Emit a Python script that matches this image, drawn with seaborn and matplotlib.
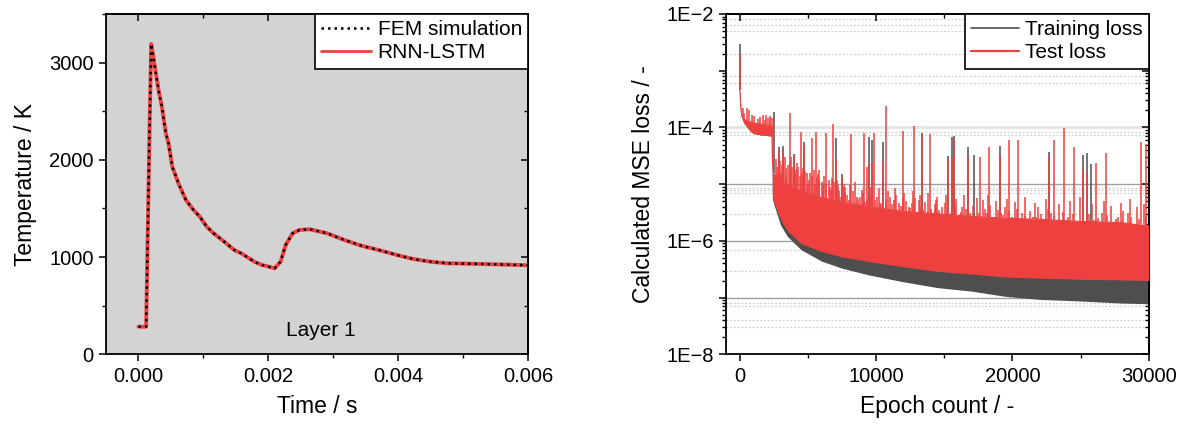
import numpy as np
import pandas as pd
import matplotlib
matplotlib.use("Agg")
import matplotlib.pyplot as plt
import seaborn as sns
from matplotlib.ticker import MultipleLocator, FixedLocator, LogLocator, FuncFormatter, NullFormatter
from matplotlib.lines import Line2D

# ---------------- data: left panel (temperature history, layer 1) ----------------
time_s = [0.0, 0.000118, 0.000169, 0.000196, 0.000231, 0.000308, 0.00036, 0.000421,
          0.000462, 0.00052, 0.000625, 0.00073, 0.000837, 0.000943, 0.00105, 0.001155,
          0.00132, 0.001473, 0.00158, 0.00179, 0.0019, 0.002097, 0.002187, 0.002266,
          0.002372, 0.00248, 0.002637, 0.002902, 0.003166, 0.00343, 0.003695,
          0.004013, 0.00423, 0.004489, 0.004754, 0.005284, 0.006]
temp_fem = [284, 284, 2274, 3192, 3045, 2719, 2547, 2274,
            2171, 1930, 1742, 1587, 1492, 1416, 1313, 1245,
            1158, 1073, 1039, 950, 919, 885, 953, 1125,
            1245, 1279, 1286, 1245, 1176, 1117, 1073,
            1015, 980, 953, 936, 929, 916]
temp_rnn = [284, 284, 2274, 3192, 3045, 2719, 2547, 2274,
            2171, 1930, 1742, 1587, 1492, 1416, 1313, 1245,
            1158, 1073, 1039, 950, 919, 885, 953, 1125,
            1245, 1279, 1286, 1245, 1176, 1117, 1073,
            1015, 980, 953, 936, 929, 916]
left_xticks = [0.0, 0.002, 0.004, 0.006]
left_xticklabels = ["0.000", "0.002", "0.004", "0.006"]
left_yticks = [0, 1000, 2000, 3000]

# ---------------- data: right panel (loss curves) ----------------
loss_epochs = [0, 30, 80, 150, 300, 550, 800, 1000, 1500, 2000, 2370, 2400, 2500,
               3000, 3500, 4500, 6000, 7500, 9500, 12000, 14500, 17000, 19500,
               22000, 25000, 28000, 30000]
test_high = [4.5e-4, 4.0e-4, 2.3e-4, 1.6e-4, 1.4e-4, 1.3e-4, 1.25e-4, 1.2e-4, 1.15e-4,
             1.1e-4, 1.05e-4, 2.5e-5, 1.5e-5, 1.15e-5, 9.5e-6, 7.5e-6, 5.8e-6, 4.8e-6,
             4.0e-6, 3.3e-6, 3.0e-6, 2.7e-6, 2.5e-6, 2.4e-6, 2.2e-6, 2.1e-6, 1.8e-6]
test_low = [3.5e-4, 3.0e-4, 1.8e-4, 1.5e-4, 1.2e-4, 1.0e-4, 8.5e-5, 7.8e-5, 7.4e-5,
            7.2e-5, 7.0e-5, 6.0e-6, 4.8e-6, 2.4e-6, 1.5e-6, 9.0e-7, 6.5e-7, 5.2e-7,
            4.3e-7, 3.5e-7, 2.9e-7, 2.6e-7, 2.3e-7, 2.2e-7, 2.1e-7, 2.05e-7, 2.0e-7]
train_low = [3.5e-4, 3.0e-4, 1.8e-4, 1.5e-4, 1.2e-4, 1.0e-4, 8.5e-5, 7.8e-5, 7.4e-5,
             7.2e-5, 7.0e-5, 5.5e-6, 4.5e-6, 1.9e-6, 1.2e-6, 7.0e-7, 4.4e-7, 3.3e-7,
             2.5e-7, 1.9e-7, 1.5e-7, 1.3e-7, 1.05e-7, 9.3e-8, 8.7e-8, 8.0e-8, 7.8e-8]

test_spike_epochs = [0, 222, 344, 540, 711, 906, 1077, 1321, 1516, 1711, 1833, 1931, 2077,
                     2199, 2297, 2420, 2860, 3153, 3666, 4008, 4521, 4740, 5308, 5594,
                     5852, 6327, 6864, 7035, 7475, 7758, 8135, 9112, 9336, 9478, 9673,
                     9844, 10479, 10699, 11993, 12799, 13336, 13947, 15241, 15534, 15730,
                     16740, 17610, 18320, 19054, 19735, 20415, 22647, 23056, 23763,
                     24498, 25178, 25505, 26131, 26866, 29398, 29806]
test_spike_values = [2.0e-3, 2.2e-4, 1.8e-4, 2.2e-4, 2.05e-4, 1.67e-4, 1.56e-4, 1.4e-4,
                     1.53e-4, 1.67e-4, 1.37e-4, 1.67e-4, 1.47e-4, 1.56e-4, 1.47e-4,
                     1.46e-4, 3.8e-5, 3.9e-5, 1.8e-4, 3.4e-5, 8.2e-5, 5.0e-5, 6.4e-5,
                     8.2e-5, 1.78e-5, 8.0e-5, 1.15e-4, 2.8e-5, 1.36e-5, 9.0e-6, 7.6e-5,
                     8.0e-5, 2.0e-5, 2.3e-5, 2.5e-5, 8.1e-5, 2.5e-5, 2.4e-4, 8.7e-5,
                     1.07e-4, 7.8e-5, 7.8e-5, 2.8e-5, 3.0e-5, 6.3e-5, 3.0e-5, 3.05e-5,
                     4.6e-5, 3.2e-5, 6.0e-5, 6.0e-5, 3.05e-5, 6.0e-5, 9.9e-5, 4.6e-5,
                     1.8e-5, 1.55e-5, 2.4e-5, 3.6e-5, 5.6e-5, 5.1e-5]

test_grass_epochs = [2722, 2858, 3049, 3321, 3539, 3811, 4083, 4219, 4627, 4954, 5090,
                     5444, 5662, 6043, 6125, 6533, 6669, 7213, 7349, 7758, 8030, 8574,
                     8847, 9173, 9527, 9935, 10262, 10480, 11024, 11296, 11705, 11977,
                     12385, 12657, 13120, 13474, 13746, 14290, 14427, 14835, 15515,
                     16060, 16332, 16876, 17285, 17829, 18101, 18646, 19190, 19462,
                     20006, 20687, 21095, 21504, 21912, 22320, 22865, 23273, 24090,
                     24770, 25995, 26540, 27356, 27764, 28445, 28989, 29534]
test_grass_values = [2.04e-5, 2.33e-5, 1.55e-5, 3.05e-5, 2.18e-5, 2.04e-5, 1.55e-5,
                     2.33e-5, 1.9e-5, 1.55e-5, 1.19e-5, 1.78e-5, 1.36e-5, 1.11e-5,
                     9.7e-6, 1.19e-5, 7.9e-6, 9.7e-6, 6.0e-6, 7.4e-6, 5.27e-6, 6.0e-6,
                     6.0e-6, 4.9e-6, 6.45e-6, 5.27e-6, 4.6e-6, 5.6e-6, 6.0e-6, 5.27e-6,
                     4.6e-6, 5.6e-6, 4.0e-6, 4.6e-6, 5.27e-6, 3.5e-6, 3.07e-6, 3.5e-6,
                     5.27e-6, 4.0e-6, 3.07e-6, 2.68e-6, 4.0e-6, 3.07e-6, 2.34e-6,
                     5.27e-6, 3.07e-6, 2.34e-6, 3.07e-6, 4.0e-6, 2.68e-6, 3.07e-6,
                     2.34e-6, 2.68e-6, 4.0e-6, 2.34e-6, 3.07e-6, 2.34e-6, 2.68e-6,
                     2.04e-6, 2.34e-6, 3.07e-6, 1.78e-6, 2.68e-6, 3.07e-6, 1.56e-6,
                     1.78e-6]
test_grass2_epochs = [2790, 2950, 3180, 3430, 3680, 3950, 4150, 4420, 4790, 5020, 5270,
                      5550, 5850, 6080, 6330, 6600, 6940, 7280, 7550, 7900, 8300, 8710,
                      9010, 9350, 9730, 10100, 10370, 10750, 11160, 11500, 11840, 12180,
                      12520, 12890, 13300, 13610, 14020, 14360, 14630, 15050, 15300,
                      15790, 16200, 16600, 17080, 17560, 17960, 18370, 18920, 19330,
                      19730, 20350, 20890, 21300, 21710, 22120, 22590, 23070, 23680,
                      24430, 25180, 25600, 26270, 26950, 27560, 28100, 28720, 29260,
                      29800]
test_grass2_values = [1.6e-5, 2.6e-5, 1.8e-5, 1.5e-5, 2.5e-5, 1.3e-5, 1.8e-5, 1.4e-5,
                      1.7e-5, 1.0e-5, 1.4e-5, 1.0e-5, 1.2e-5, 8.0e-6, 1.0e-5, 9.0e-6,
                      1.1e-5, 7.5e-6, 8.5e-6, 6.5e-6, 7.5e-6, 5.5e-6, 7.0e-6, 5.5e-6,
                      7.0e-6, 6.0e-6, 4.5e-6, 5.5e-6, 4.5e-6, 6.5e-6, 4.2e-6, 5.0e-6,
                      3.8e-6, 5.8e-6, 4.0e-6, 4.8e-6, 3.6e-6, 4.5e-6, 3.5e-6, 4.6e-6,
                      3.4e-6, 4.2e-6, 3.2e-6, 3.6e-6, 4.2e-6, 3.1e-6, 3.6e-6, 4.3e-6,
                      3.5e-6, 2.9e-6, 3.4e-6, 3.6e-6, 2.8e-6, 3.4e-6, 2.6e-6, 3.0e-6,
                      3.6e-6, 2.7e-6, 3.2e-6, 3.0e-6, 2.6e-6, 3.0e-6, 2.5e-6, 2.9e-6,
                      2.4e-6, 3.3e-6, 2.6e-6, 2.4e-6, 2.8e-6]
test_grass3_epochs = [2650, 3100, 3380, 3750, 4300, 4550, 5180, 5720, 6200, 6750, 7150,
                      7650, 8100, 8450, 8950, 9600, 10200, 10900, 11400, 12050, 12700,
                      13200, 13800, 14500, 15100, 15900, 16450, 17400, 18200, 18800,
                      19600, 20200, 20950, 21650, 22450, 23400, 24250, 24950, 25850,
                      26700, 27200, 27950, 28600, 29100, 29650]
test_grass3_values = [2.8e-5, 2.2e-5, 1.9e-5, 3.0e-5, 2.0e-5, 1.6e-5, 1.6e-5, 1.5e-5,
                      1.4e-5, 1.3e-5, 1.2e-5, 1.0e-5, 9.5e-6, 1.1e-5, 8.0e-6, 9.0e-6,
                      8.5e-6, 7.5e-6, 8.5e-6, 7.0e-6, 7.5e-6, 6.5e-6, 7.0e-6, 6.0e-6,
                      6.5e-6, 5.5e-6, 6.5e-6, 5.8e-6, 6.5e-6, 5.0e-6, 5.5e-6, 4.8e-6,
                      6.0e-6, 4.6e-6, 5.5e-6, 4.5e-6, 5.0e-6, 6.0e-6, 4.5e-6, 5.0e-6,
                      4.2e-6, 4.6e-6, 5.5e-6, 4.0e-6, 4.5e-6]

train_spike_epochs = [0, 2494, 2860, 3153, 4008, 4740, 7035, 7475, 9478, 9673, 10479,
                      13336, 15241, 15534, 15730, 16740, 17150, 19054, 22647, 25178,
                      25505, 25777]
train_spike_values = [2.9e-3, 1.9e-4, 4.6e-5, 4.7e-5, 3.4e-5, 5.6e-5, 6.5e-5, 1.5e-5,
                      6.9e-5, 6.1e-5, 5.5e-5, 8.0e-5, 3.1e-5, 6.9e-5, 7.2e-5, 4.6e-5,
                      3.3e-5, 4.7e-5, 3.7e-5, 3.3e-5, 3.6e-5, 2.3e-5]

right_xticks = [0, 10000, 20000, 30000]
right_decades = [1e-8, 1e-7, 1e-6, 1e-5, 1e-4, 1e-3, 1e-2]
solid_grid_levels = [1e-7, 1e-6, 1e-5]
light_grid_levels = [1e-4]
dotted_grid_levels = [8e-3, 6.5e-3, 5e-3, 2e-3, 8e-4, 6e-4, 8.2e-5, 7.4e-5, 8.7e-6,
                      8e-6, 7e-6, 3e-6, 7e-7, 3e-7, 8e-8, 7e-8, 4e-8, 3e-8]

# ---------------- style ----------------
RED = "#ef4040"
GRAY = "#4e4e4e"
sns.set_theme(style="white")
plt.rcParams["font.family"] = ["Liberation Sans", "DejaVu Sans"]
plt.rcParams["axes.unicode_minus"] = True
for k in ["text.color", "axes.labelcolor", "xtick.color", "ytick.color", "axes.edgecolor"]:
    plt.rcParams[k] = "black"

TICK_FS = 14.5
LABEL_FS = 16.5
LEG_FS = 15

fig = plt.figure(figsize=(11.82, 4.24), dpi=100)
ax1 = fig.add_axes([106 / 1182, 69.7 / 424, 422.3 / 1182, 340.3 / 424])
ax2 = fig.add_axes([726 / 1182, 69.7 / 424, 422.8 / 1182, 340.3 / 424])


def style_frame(ax):
    for s in ax.spines.values():
        s.set_visible(True)
        s.set_color("black")
        s.set_linewidth(1.3)
    ax.tick_params(which="major", direction="out", length=4.8, width=1.1,
                   labelsize=TICK_FS, colors="black", pad=4)
    ax.tick_params(which="minor", direction="out", length=2.6, width=1.0,
                   colors="black")
    ax.tick_params(bottom=True, left=True, top=False, right=False, which="both")


def mirror_ticks(ax, xmajor, xminor, ymajor, yminor):
    top = ax.secondary_xaxis("top")
    top.xaxis.set_major_locator(xmajor)
    top.xaxis.set_minor_locator(xminor)
    top.tick_params(which="major", direction="in", length=4.8, width=1.1,
                    labeltop=False, colors="black")
    top.tick_params(which="minor", direction="in", length=2.6, width=1.0, colors="black")
    top.spines["top"].set_linewidth(1.3)
    right = ax.secondary_yaxis("right")
    right.yaxis.set_major_locator(ymajor)
    right.yaxis.set_minor_locator(yminor)
    right.yaxis.set_minor_formatter(NullFormatter())
    right.tick_params(which="major", direction="in", length=4.8, width=1.1,
                      labelright=False, colors="black")
    right.tick_params(which="minor", direction="in", length=2.6, width=1.0, colors="black")
    right.spines["right"].set_linewidth(1.3)


# ---------------- left panel ----------------
ax1.set_facecolor("#d3d3d3")
df_t = pd.DataFrame({"time": time_s, "fem": temp_fem, "rnn": temp_rnn})
sns.lineplot(data=df_t, x="time", y="rnn", ax=ax1, color=RED, linewidth=2.8,
             sort=False, estimator=None, zorder=3)
sns.lineplot(data=df_t, x="time", y="fem", ax=ax1, color="black", linewidth=1.8,
             linestyle=(0, (1, 1.6)), sort=False, estimator=None, zorder=4)
ax1.set_xlim(-0.0005, 0.006)
ax1.set_ylim(0, 3500)
ax1.set_xticks(left_xticks)
ax1.set_xticklabels(left_xticklabels)
ax1.xaxis.set_minor_locator(MultipleLocator(0.001))
ax1.set_yticks(left_yticks)
ax1.yaxis.set_minor_locator(MultipleLocator(500))
style_frame(ax1)
ax1.set_xlabel("Time / s", fontsize=LABEL_FS, labelpad=7)
ax1.set_ylabel("Temperature / K", fontsize=LABEL_FS, labelpad=9)
ax1.text(0.0028, 240, "Layer 1", ha="center", va="center", fontsize=LEG_FS, color="black")
mirror_ticks(ax1, FixedLocator(left_xticks), MultipleLocator(0.001),
             FixedLocator(left_yticks), MultipleLocator(500))

h1 = [Line2D([], [], color="black", lw=1.8, linestyle=(0, (1, 1.6))),
      Line2D([], [], color=RED, lw=2.0)]
leg1 = ax1.legend(h1, ["FEM simulation", "RNN-LSTM"], loc="upper right",
                  bbox_to_anchor=(1, 1), borderaxespad=0, frameon=True, fancybox=False,
                  edgecolor="black", facecolor="white", framealpha=1, fontsize=LEG_FS,
                  handlelength=2.4, handletextpad=0.3, labelspacing=0.2, borderpad=0.3)
leg1.get_frame().set_linewidth(1.2)

# ---------------- right panel ----------------
ax2.set_facecolor("white")
ax2.set_yscale("log")
ax2.set_xlim(-1000, 30000)
ax2.set_ylim(1e-8, 1e-2)

for lv in dotted_grid_levels:
    ax2.axhline(lv, color="#cfcfcf", lw=0.9, ls=(0, (1.5, 1.5)), zorder=0)
for lv in light_grid_levels:
    ax2.axhline(lv, color="#e4e4e4", lw=2.0, zorder=0)
for lv in solid_grid_levels:
    ax2.axhline(lv, color="#a0a0a0", lw=1.0, zorder=0)

ep = np.asarray(loss_epochs, dtype=float)
log_top = np.log(np.asarray(test_high))


def band_top(x):
    return np.exp(np.interp(np.asarray(x, dtype=float), ep, log_top))


# training loss (drawn first, underneath)
ax2.fill_between(ep, train_low, test_high, color=GRAY, lw=0, zorder=2)
ax2.vlines(train_spike_epochs, band_top(train_spike_epochs), train_spike_values,
           color=GRAY, lw=1.1, zorder=2)
# test loss
ax2.fill_between(ep, test_low, test_high, color=RED, lw=0, zorder=3)
for xs, ys in [(test_spike_epochs, test_spike_values),
               (test_grass_epochs, test_grass_values),
               (test_grass2_epochs, test_grass2_values),
               (test_grass3_epochs, test_grass3_values)]:
    ax2.vlines(xs, band_top(xs), ys, color=RED, lw=1.1, zorder=3)
sns.lineplot(x=loss_epochs, y=test_high, ax=ax2, color=RED, lw=0.8, zorder=3,
             estimator=None, sort=False)

ax2.set_xticks(right_xticks)
ax2.xaxis.set_minor_locator(MultipleLocator(5000))
ax2.yaxis.set_major_locator(FixedLocator(right_decades))
ax2.yaxis.set_minor_locator(LogLocator(base=10, subs=np.arange(2, 10), numticks=30))
ax2.yaxis.set_minor_formatter(NullFormatter())


def dec_label(v, pos):
    n = int(round(np.log10(v)))
    if n % 2 == 0:
        return "1E\u2212%d" % (-n)
    return ""


ax2.yaxis.set_major_formatter(FuncFormatter(dec_label))
style_frame(ax2)
ax2.set_xlabel("Epoch count / -", fontsize=LABEL_FS, labelpad=7)
ax2.set_ylabel("Calculated MSE loss / -", fontsize=LABEL_FS, labelpad=8)
mirror_ticks(ax2, FixedLocator(right_xticks), MultipleLocator(5000),
             FixedLocator(right_decades),
             LogLocator(base=10, subs=np.arange(2, 10), numticks=30))

h2 = [Line2D([], [], color=GRAY, lw=1.2), Line2D([], [], color=RED, lw=1.6)]
leg2 = ax2.legend(h2, ["Training loss", "Test loss"], loc="upper right",
                  bbox_to_anchor=(1, 1), borderaxespad=0, frameon=True, fancybox=False,
                  edgecolor="black", facecolor="white", framealpha=1, fontsize=LEG_FS,
                  handlelength=2.3, handletextpad=0.3, labelspacing=0.2, borderpad=0.3)
leg2.get_frame().set_linewidth(1.2)
leg2.set_zorder(10)

fig.savefig("out.png", dpi=100)
